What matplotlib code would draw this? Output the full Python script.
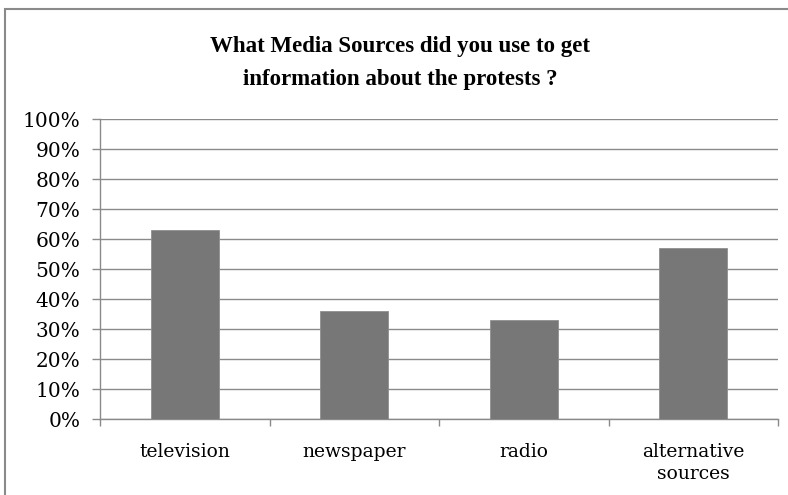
import numpy as np
import matplotlib.pyplot as plt
from matplotlib.patches import Rectangle
from matplotlib.ticker import FixedLocator

# survey answers, share of respondents
categories = ["television", "newspaper", "radio", "alternative\nsources"]
shares = [63, 36, 33, 57]
y_ticks = [0, 10, 20, 30, 40, 50, 60, 70, 80, 90, 100]
y_labels = ["0%", "10%", "20%", "30%", "40%", "50%", "60%", "70%", "80%", "90%", "100%"]

grey_line = "#8a8a8a"
bar_grey = "#777777"

fig = plt.figure(figsize=(7.88, 4.95), dpi=100)
fig.patch.set_facecolor("white")

# chart frame, runs off the right and bottom edges
fig.patches.append(Rectangle((5 / 788, -0.2), 1.2, 0.2 + (495 - 9) / 495,
                             transform=fig.transFigure, fill=False,
                             edgecolor=grey_line, linewidth=1.5))

ax = fig.add_axes([100 / 788, 75.7 / 495, 678 / 788, 300 / 495])
x = np.arange(len(categories))
ax.bar(x, shares, width=0.4, color=bar_grey, edgecolor="#8f8f8f", linewidth=0.6, zorder=3)

ax.set_xlim(-0.5, len(categories) - 0.5)
ax.set_ylim(0, 100)
ax.set_yticks(y_ticks)
ax.set_yticklabels(y_labels, family="DejaVu Serif", fontsize=14.5)
ax.yaxis.grid(True, color=grey_line, linewidth=1.0, zorder=0)

ax.set_xticks(x)
ax.set_xticklabels(categories, family="DejaVu Serif", fontsize=13.5, linespacing=1.3)
ax.xaxis.set_minor_locator(FixedLocator(np.arange(-0.5, len(categories), 1.0)))
ax.tick_params(axis="x", which="major", length=0, pad=17)
ax.tick_params(axis="x", which="minor", length=5, color=grey_line, width=1)
ax.tick_params(axis="y", length=5.8, color=grey_line, width=1, pad=8.5)

for side in ["top", "right"]:
    ax.spines[side].set_visible(False)
for side in ["left", "bottom"]:
    ax.spines[side].set_color(grey_line)
    ax.spines[side].set_linewidth(1.0)

fig.text(0.508, 0.906, "What Media Sources did you use to get",
         ha="center", va="center", family="Liberation Serif", weight="bold", fontsize=16.5)
fig.text(0.508, 0.840, "information about the protests ?",
         ha="center", va="center", family="Liberation Serif", weight="bold", fontsize=16.5)

fig.savefig("out.png", dpi=100, facecolor=fig.get_facecolor())
